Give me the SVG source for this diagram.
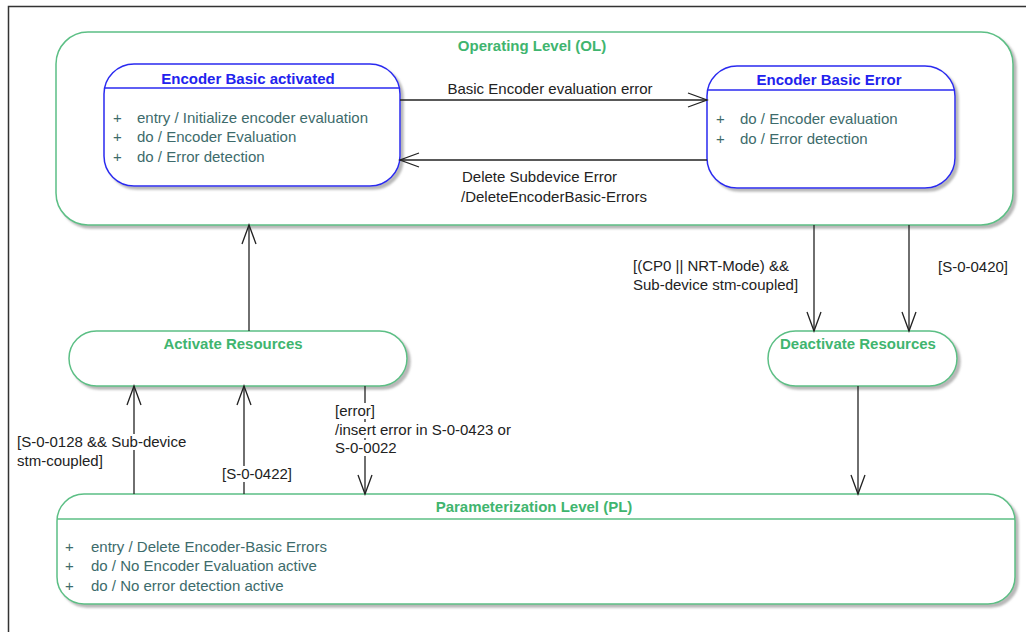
<svg xmlns="http://www.w3.org/2000/svg" width="1026" height="632" viewBox="0 0 1026 632">
<style>
text{font-family:"Liberation Sans",Arial,sans-serif;font-size:15px}
.gt{fill:#3fb56f;font-weight:bold;text-anchor:middle}
.bt{fill:#2222ee;font-weight:bold;text-anchor:middle}
.it{fill:#3d6b6b}
.lb{fill:#222}
.gs{fill:#fff;stroke:#5cbf85;stroke-width:1.5}
.bs{fill:#fff;stroke:#2a2af0;stroke-width:1.5}
.cn{stroke:#222;stroke-width:1.3;fill:none}
.bg{fill:#fff}
</style>
<defs>
<filter id="sh" x="-5%" y="-5%" width="115%" height="125%">
<feDropShadow dx="3" dy="3" stdDeviation="1" flood-color="#888" flood-opacity="0.6"/>
</filter>
<marker id="ar" markerWidth="22" markerHeight="16" refX="20" refY="8" orient="auto" markerUnits="userSpaceOnUse">
<path d="M1,1 L20,8 L1,15" fill="none" stroke="#222" stroke-width="1.3"/>
</marker>
</defs>
<rect width="1026" height="632" fill="#fff"/>
<path d="M8.5,632 V6.5 H1026" fill="none" stroke="#333" stroke-width="1.5"/>

<g id="node-ol">
<rect class="gs" x="56" y="32" width="957" height="193" rx="32" filter="url(#sh)"/>
<text class="gt" x="532" y="51">Operating Level (OL)</text>
</g>

<g id="node-eba">
<rect class="bs" x="104" y="64" width="296" height="122" rx="30" filter="url(#sh)"/>
<line x1="104" y1="88" x2="400" y2="88" stroke="#2a2af0" stroke-width="1.5"/>
<text class="bt" x="248" y="84">Encoder Basic activated</text>
<text class="it" x="113" y="123">+</text><text class="it" x="137" y="123">entry / Initialize encoder evaluation</text>
<text class="it" x="113" y="142">+</text><text class="it" x="137" y="142">do / Encoder Evaluation</text>
<text class="it" x="113" y="162">+</text><text class="it" x="137" y="162">do / Error detection</text>
</g>

<g id="node-ebe">
<rect class="bs" x="707" y="66" width="248" height="122" rx="30" filter="url(#sh)"/>
<line x1="707" y1="90" x2="955" y2="90" stroke="#2a2af0" stroke-width="1.5"/>
<text class="bt" x="829" y="85">Encoder Basic Error</text>
<text class="it" x="716" y="124">+</text><text class="it" x="740" y="124">do / Encoder evaluation</text>
<text class="it" x="716" y="144">+</text><text class="it" x="740" y="144">do / Error detection</text>
</g>

<g id="node-ar">
<rect class="gs" x="69" y="331" width="338" height="55" rx="27.5" filter="url(#sh)"/>
<text class="gt" x="233" y="349">Activate Resources</text>
</g>

<g id="node-dr">
<rect class="gs" x="768" y="331" width="189" height="55" rx="27.5" filter="url(#sh)"/>
<text class="gt" x="858" y="349">Deactivate Resources</text>
</g>

<g id="node-pl">
<rect class="gs" x="57" y="494" width="958" height="110" rx="27" filter="url(#sh)"/>
<line x1="57" y1="519" x2="1015" y2="519" stroke="#5cbf85" stroke-width="1.5"/>
<text class="gt" x="534" y="512">Parameterization Level (PL)</text>
<text class="it" x="65" y="552">+</text><text class="it" x="91" y="552">entry / Delete Encoder-Basic Errors</text>
<text class="it" x="65" y="571">+</text><text class="it" x="91" y="571">do / No Encoder Evaluation active</text>
<text class="it" x="65" y="591">+</text><text class="it" x="91" y="591">do / No error detection active</text>
</g>

<g id="connectors">
<line class="cn" x1="400" y1="100" x2="707" y2="100" marker-end="url(#ar)"/>
<text class="lb" x="550" y="94" text-anchor="middle">Basic Encoder evaluation error</text>

<line class="cn" x1="707" y1="160" x2="400" y2="160" marker-end="url(#ar)"/>
<text class="lb" x="462" y="182">Delete Subdevice Error</text>
<text class="lb" x="461" y="202">/DeleteEncoderBasic-Errors</text>

<line class="cn" x1="249" y1="331" x2="249" y2="225" marker-end="url(#ar)"/>

<line class="cn" x1="134" y1="494" x2="134" y2="386" marker-end="url(#ar)"/>
<rect class="bg" x="104" y="434" width="84" height="16"/>
<text class="lb" x="17" y="447">[S-0-0128 &amp;&amp; Sub-device</text>
<text class="lb" x="17" y="466">stm-coupled]</text>

<line class="cn" x1="244" y1="494" x2="244" y2="386" marker-end="url(#ar)"/>
<rect class="bg" x="222" y="466" width="72" height="16"/>
<text class="lb" x="222" y="479">[S-0-0422]</text>

<line class="cn" x1="365" y1="386" x2="365" y2="494" marker-end="url(#ar)"/>
<rect class="bg" x="334" y="403" width="50" height="16"/>
<rect class="bg" x="334" y="422" width="178" height="16"/>
<rect class="bg" x="334" y="440" width="66" height="16"/>
<text class="lb" x="335" y="416">[error]</text>
<text class="lb" x="335" y="435">/insert error in S-0-0423 or</text>
<text class="lb" x="335" y="453">S-0-0022</text>

<line class="cn" x1="814" y1="225" x2="814" y2="331" marker-end="url(#ar)"/>
<text class="lb" x="633" y="271">[(CP0 || NRT-Mode) &amp;&amp;</text>
<text class="lb" x="633" y="290">Sub-device stm-coupled]</text>

<line class="cn" x1="909" y1="225" x2="909" y2="331" marker-end="url(#ar)"/>
<text class="lb" x="938" y="272">[S-0-0420]</text>

<line class="cn" x1="858" y1="386" x2="858" y2="494" marker-end="url(#ar)"/>
</g>
</svg>
